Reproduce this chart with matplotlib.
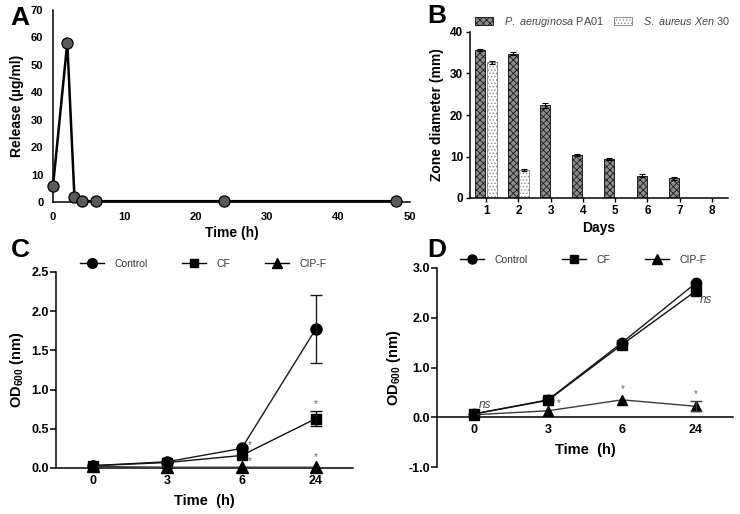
import matplotlib
matplotlib.use("Agg")
import matplotlib.pyplot as plt
from matplotlib.patches import Patch
from matplotlib.lines import Line2D
import numpy as np

plt.rcParams['font.family'] = ['Liberation Sans', 'DejaVu Sans']
plt.rcParams['mathtext.fontset'] = 'custom'
plt.rcParams['mathtext.rm'] = 'Liberation Sans'
plt.rcParams['mathtext.it'] = 'Liberation Sans:italic'
plt.rcParams['mathtext.bf'] = 'Liberation Sans:bold'
plt.rcParams['hatch.linewidth'] = 0.6

# ---------------- Data ----------------
# Panel A: release profile
time_a = [0, 2, 3, 4, 6, 24, 48]
release_a = [5.8, 58.1, 1.9, 0.3, 0.3, 0.3, 0.3]

# Panel B: zone of inhibition
days_b = [1, 2, 3, 4, 5, 6, 7, 8]
pa01 = [35.7, 34.8, 22.3, 10.4, 9.4, 5.4, 4.7, 0.0]
pa01_err = [0.3, 0.3, 0.7, 0.3, 0.3, 0.3, 0.3, 0.0]
xen30 = [32.7, 6.8, 0, 0, 0, 0, 0, 0]
xen30_err = [0.3, 0.2, 0, 0, 0, 0, 0, 0]

# Panels C and D: growth curves
time_labels = ['0', '3', '6', '24']
c_control = [0.03, 0.08, 0.25, 1.775]
c_control_err = [0, 0, 0, 0.43]
c_cf = [0.03, 0.07, 0.16, 0.63]
c_cf_err = [0, 0, 0, 0.095]
c_cipf = [0.02, 0.01, 0.01, 0.01]
c_cipf_err = [0, 0, 0, 0]

d_control = [0.067, 0.35, 1.50, 2.70]
d_control_err = [0, 0, 0, 0]
d_cf = [0.067, 0.34, 1.46, 2.54]
d_cf_err = [0, 0, 0, 0]
d_cipf = [0.05, 0.13, 0.35, 0.22]
d_cipf_err = [0, 0, 0, 0.10]

# significance annotations (x index, y value, text)
c_marks = [(2.11, 0.29, '*'), (2.11, 0.09, '*'), (1.12, 0.06, '*'),
           (3.0, 0.815, '*'), (3.0, 0.14, '*')]
d_marks = [(1.14, 0.28, '*'), (2.01, 0.57, '*'), (3.0, 0.47, '*')]
d_ns = [(0.15, 0.25, 'ns'), (3.14, 2.36, 'ns')]

W, H = 740, 514
fig = plt.figure(figsize=(W / 100, H / 100), dpi=100)


def rect(l, t, r, b):
    return [l / W, 1 - b / H, (r - l) / W, (b - t) / H]


SPW = 1.1

# ---------------- Panel A ----------------
axA = fig.add_axes(rect(53, 10, 410, 202))
axA.plot(time_a, release_a, color='black', lw=1.8, marker='o', ms=8,
         mfc='#5a5a5a', mec='black', mew=0.9, clip_on=False, zorder=3)
axA.set_xlim(0, 50)
axA.set_ylim(0, 70)
axA.set_xticks(range(0, 51, 10))
axA.set_yticks(range(0, 71, 10))
for s in ['top', 'right']:
    axA.spines[s].set_visible(False)
for s in ['left', 'bottom']:
    axA.spines[s].set_linewidth(SPW)
axA.tick_params(length=0, labelsize=8, pad=7)
for lab in axA.get_xticklabels() + axA.get_yticklabels():
    lab.set_fontweight('bold')
axA.set_xlabel('Time (h)', fontsize=10, fontweight='bold', labelpad=3)
axA.set_ylabel('Release (µg/ml)', fontsize=10, fontweight='bold', labelpad=5)

# ---------------- Panel B ----------------
axB = fig.add_axes(rect(470, 32, 728, 198))
xb = np.array(days_b, dtype=float)
bw = 0.31
off = 0.18
axB.bar(xb - off, pa01, width=bw, facecolor='#8c8c8c', edgecolor='#1e1e1e',
        hatch='xxxxx', linewidth=0.7, zorder=2)
axB.bar(xb + off, xen30, width=bw, facecolor='white', edgecolor='#8a8a8a',
        hatch='.....', linewidth=0.7, zorder=2)
pa_mask = np.array(pa01) > 0
sa_mask = np.array(xen30) > 0
axB.errorbar((xb - off)[pa_mask], np.array(pa01)[pa_mask],
             yerr=np.array(pa01_err)[pa_mask], fmt='none', ecolor='black',
             elinewidth=0.8, capsize=2.5, capthick=0.8, zorder=3)
axB.errorbar((xb + off)[sa_mask], np.array(xen30)[sa_mask],
             yerr=np.array(xen30_err)[sa_mask], fmt='none', ecolor='black',
             elinewidth=0.8, capsize=2.5, capthick=0.8, zorder=3)
axB.set_xlim(0.5, 8.5)
axB.set_ylim(0, 40)
axB.set_xticks(days_b)
axB.set_yticks(range(0, 41, 10))
for s in ['top', 'right']:
    axB.spines[s].set_visible(False)
for s in ['left', 'bottom']:
    axB.spines[s].set_linewidth(SPW)
axB.tick_params(axis='both', length=3, width=1, labelsize=8.5, pad=2)
for lab in axB.get_xticklabels() + axB.get_yticklabels():
    lab.set_fontweight('bold')
axB.set_xlabel('Days', fontsize=10, fontweight='bold', labelpad=3)
axB.set_ylabel('Zone diameter (mm)', fontsize=10, fontweight='bold', labelpad=4)
hB = [Patch(facecolor='#8c8c8c', edgecolor='#1e1e1e', hatch='xxxxx', lw=0.7),
      Patch(facecolor='white', edgecolor='#8a8a8a', hatch='.....', lw=0.7)]
legB = fig.legend(hB, [r'$\it{P.\ aeruginosa}$ PA01', r'$\it{S.\ aureus\ Xen}$ 30'],
                  loc='center left', bbox_to_anchor=(475 / W, 1 - 22 / H),
                  bbox_transform=fig.transFigure, ncol=2, frameon=False,
                  fontsize=7.8, handlelength=1.7, handleheight=0.7,
                  handletextpad=1.0, columnspacing=0.9, borderpad=0,
                  borderaxespad=0)
for t in legB.get_texts():
    t.set_color('#444444')


# ---------------- Growth panels helper ----------------
def growth(ax, ctrl, ctrl_e, cf, cf_e, cip, cip_e, ms, leg_xy):
    x = np.arange(len(time_labels))
    series = [
        (ctrl, ctrl_e, 'o', '#1a1a1a', 'Control', ms),
        (cf, cf_e, 's', '#111111', 'CF', ms - 1),
        (cip, cip_e, '^', '#3a3a3a', 'CIP-F', ms),
    ]
    handles = []
    for vals, errs, mk, col, lab, m in series:
        ax.plot(x, vals, color=col, lw=1.0, marker=mk, ms=m, mfc='black',
                mec='black', clip_on=False, zorder=3)
        e = np.array(errs)
        mask = e > 0
        if mask.any():
            ax.errorbar(x[mask], np.array(vals)[mask], yerr=e[mask], fmt='none',
                        ecolor=col, elinewidth=1.0, capsize=4, capthick=1.0,
                        zorder=3, clip_on=False)
        handles.append(Line2D([], [], color='black', lw=1.0, marker=mk,
                              ms=m - 1, mfc='black', mec='black', label=lab))
    ax.set_xticks(x)
    ax.set_xticklabels(time_labels)
    ax.set_xlim(-0.5, 3.5)
    for s in ['top', 'right']:
        ax.spines[s].set_visible(False)
    for s in ['left', 'bottom']:
        ax.spines[s].set_linewidth(SPW)
    ax.tick_params(axis='x', length=0, labelsize=9, pad=5)
    ax.tick_params(axis='y', length=4, width=1.1, labelsize=9, pad=1)
    ax.set_xlabel('Time  (h)', fontsize=10.5, fontweight='bold', labelpad=5)
    ax.set_ylabel(r'OD$_\mathbf{600}$ (nm)', fontsize=10.5, fontweight='bold',
                  labelpad=4)
    leg = fig.legend(handles=handles, loc='center left',
                     bbox_to_anchor=(leg_xy[0] / W, 1 - leg_xy[1] / H),
                     bbox_transform=fig.transFigure, ncol=3, frameon=False,
                     fontsize=7.5, handlelength=2.3, handletextpad=1.0,
                     columnspacing=3.3, borderpad=0, borderaxespad=0)
    for t in leg.get_texts():
        t.set_color('#333333')


# ---------------- Panel C ----------------
axC = fig.add_axes(rect(56, 272, 353, 468))
axC.set_ylim(0, 2.5)
axC.set_yticks(np.arange(0, 2.51, 0.5))
axC.set_yticklabels([f'{v:.1f}' for v in np.arange(0, 2.51, 0.5)])
growth(axC, c_control, c_control_err, c_cf, c_cf_err, c_cipf, c_cipf_err,
       8, (80, 264))
for xm, ym, tx in c_marks:
    axC.text(xm, ym, tx, fontsize=7, color='#666666', ha='center', va='center')
for lab in axC.get_xticklabels() + axC.get_yticklabels():
    lab.set_fontweight('bold')

# ---------------- Panel D ----------------
axD = fig.add_axes(rect(437, 268, 733, 467))
axD.set_ylim(-1, 3)
axD.set_yticks(np.arange(-1, 3.01, 1.0))
axD.set_yticklabels([f'{v:.1f}' for v in np.arange(-1, 3.01, 1.0)])
axD.spines['bottom'].set_position(('data', 0))
growth(axD, d_control, d_control_err, d_cf, d_cf_err, d_cipf, d_cipf_err,
       7.5, (460, 260))
for xm, ym, tx in d_marks:
    axD.text(xm, ym, tx, fontsize=7, color='#666666', ha='center', va='center')
for xm, ym, tx in d_ns:
    axD.text(xm, ym, tx, fontsize=8.5, color='#444444', style='italic',
             ha='center', va='center')
for lab in axD.get_xticklabels() + axD.get_yticklabels():
    lab.set_fontweight('bold')

# ---------------- Panel letters ----------------
for tx, x, y in [('A', 10, 25), ('B', 427, 23), ('C', 11, 257), ('D', 427, 257)]:
    fig.text(x / W, 1 - y / H, tx, fontsize=19, fontweight='bold',
             ha='left', va='baseline')

fig.savefig('out.png', dpi=100)
